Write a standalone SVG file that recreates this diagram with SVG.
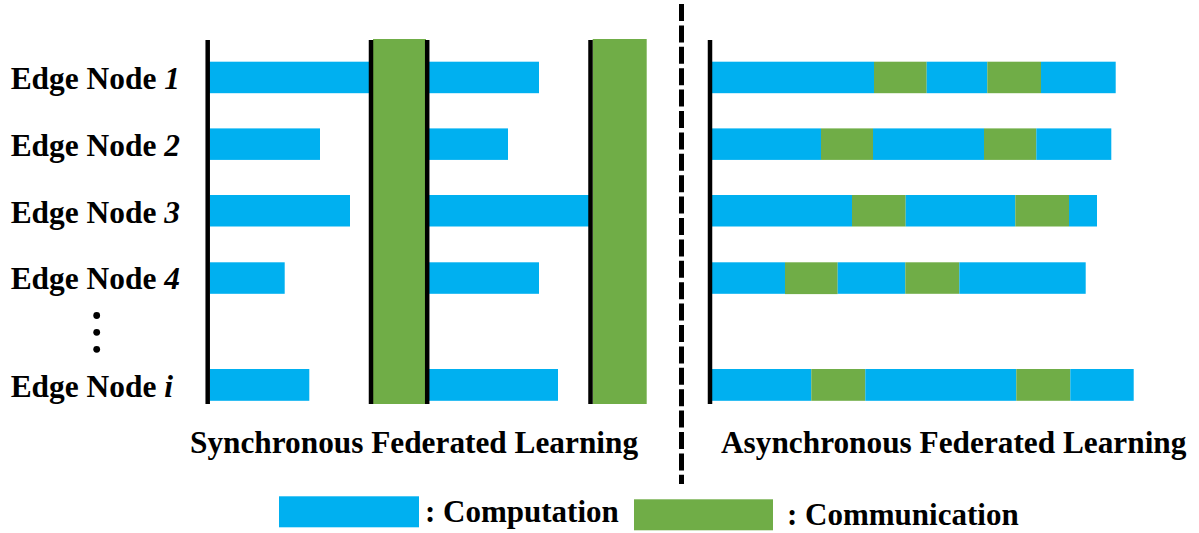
<svg xmlns="http://www.w3.org/2000/svg" width="1199" height="533" viewBox="0 0 1199 533">
<style>
.cp{fill:#00B0F0}
.cm{fill:#70AD47}
.ax{stroke:#000;stroke-width:4.5;fill:none}
.t{font-family:"Liberation Serif","Times New Roman",serif;font-weight:bold;font-size:31.4px;fill:#000}
.h{font-size:31.3px}
.l{font-size:31px}
.n{font-style:italic}
</style>
<rect width="1199" height="533" fill="#fff"/>
<g id="labels">
<g id="node1"><text class="t" x="10.7" y="89.3">Edge Node <tspan class="n">1</tspan></text></g>
<g id="node2"><text class="t" x="10.7" y="156">Edge Node <tspan class="n">2</tspan></text></g>
<g id="node3"><text class="t" x="10.7" y="222.7">Edge Node <tspan class="n">3</tspan></text></g>
<g id="node4"><text class="t" x="10.7" y="289.4">Edge Node <tspan class="n">4</tspan></text></g>
<g id="dots">
<circle cx="96.7" cy="315.5" r="3.4"/>
<circle cx="96.7" cy="332.3" r="3.4"/>
<circle cx="96.7" cy="349.3" r="3.4"/>
</g>
<g id="nodei"><text class="t" x="10.7" y="396.5">Edge Node <tspan class="n">i</tspan></text></g>
</g>
<g id="sync">
<rect class="cm" x="373" y="39" width="53" height="365"/>
<rect class="cm" x="592.7" y="39" width="54" height="365"/>
<g id="sync-row1"><rect class="cp" x="208" y="61.7" width="161" height="31.5"/><rect class="cp" x="428" y="61.7" width="111" height="31.5"/></g>
<g id="sync-row2"><rect class="cp" x="210" y="128.4" width="110" height="31.5"/><rect class="cp" x="429" y="128.4" width="79" height="31.5"/></g>
<g id="sync-row3"><rect class="cp" x="210" y="195" width="140" height="31.5"/><rect class="cp" x="429" y="195" width="160" height="31.5"/></g>
<g id="sync-row4"><rect class="cp" x="210" y="262.3" width="74.7" height="31.5"/><rect class="cp" x="429" y="262.3" width="110" height="31.5"/></g>
<g id="sync-rowi"><rect class="cp" x="210" y="369" width="99.3" height="31.8"/><rect class="cp" x="429" y="369" width="129" height="31.8"/></g>
<line class="ax" x1="207.7" y1="40" x2="207.7" y2="404"/>
<line class="ax" x1="371" y1="40" x2="371" y2="404"/>
<line class="ax" x1="427.2" y1="40" x2="427.2" y2="404"/>
<line class="ax" x1="590.5" y1="40" x2="590.5" y2="404"/>
<text class="t h" x="190" y="453.3">Synchronous Federated Learning</text>
</g>
<g id="connectors">
<line x1="681.5" y1="4" x2="681.5" y2="484" stroke="#000" stroke-width="5" stroke-dasharray="17 4.4"/>
</g>
<g id="async">
<g id="async-row1">
<rect class="cp" x="710" y="61.7" width="164" height="31.5"/>
<rect class="cm" x="874" y="61.7" width="52.7" height="31.5"/>
<rect class="cp" x="926.7" y="61.7" width="60.6" height="31.5"/>
<rect class="cm" x="987.3" y="61.7" width="53.7" height="31.5"/>
<rect class="cp" x="1041" y="61.7" width="74.7" height="31.5"/>
</g>
<g id="async-row2">
<rect class="cp" x="712" y="128.4" width="109" height="31.5"/>
<rect class="cm" x="821" y="128.4" width="52" height="31.5"/>
<rect class="cp" x="873" y="128.4" width="111" height="31.5"/>
<rect class="cm" x="984" y="128.4" width="52.3" height="31.5"/>
<rect class="cp" x="1036.3" y="128.4" width="75" height="31.5"/>
</g>
<g id="async-row3">
<rect class="cp" x="712" y="195" width="140" height="31.5"/>
<rect class="cm" x="852" y="195" width="53.7" height="31.5"/>
<rect class="cp" x="905.7" y="195" width="109.6" height="31.5"/>
<rect class="cm" x="1015.3" y="195" width="53.7" height="31.5"/>
<rect class="cp" x="1069" y="195" width="28" height="31.5"/>
</g>
<g id="async-row4">
<rect class="cp" x="712" y="262.3" width="73" height="31.5"/>
<rect class="cm" x="785" y="262.3" width="52.7" height="31.8"/>
<rect class="cp" x="837.7" y="262.3" width="67.6" height="31.5"/>
<rect class="cm" x="905.3" y="262.3" width="54" height="31.5"/>
<rect class="cp" x="959.3" y="262.3" width="126.4" height="31.5"/>
</g>
<g id="async-rowi">
<rect class="cp" x="712" y="369" width="99.3" height="31.8"/>
<rect class="cm" x="811.3" y="369" width="54" height="31.8"/>
<rect class="cp" x="865.3" y="369" width="151" height="31.8"/>
<rect class="cm" x="1016.3" y="369" width="54" height="31.8"/>
<rect class="cp" x="1070.3" y="369" width="63.4" height="31.8"/>
</g>
<line class="ax" x1="710" y1="40" x2="710" y2="404"/>
<text class="t h" x="721" y="453.3">Asynchronous Federated Learning</text>
</g>
<g id="legend">
<rect class="cp" x="279" y="496.3" width="140" height="31"/>
<text class="t l" x="425" y="522">: Computation</text>
<rect class="cm" x="634" y="499.3" width="139" height="31"/>
<text class="t l" x="787" y="524.5">: Communication</text>
</g>
</svg>
